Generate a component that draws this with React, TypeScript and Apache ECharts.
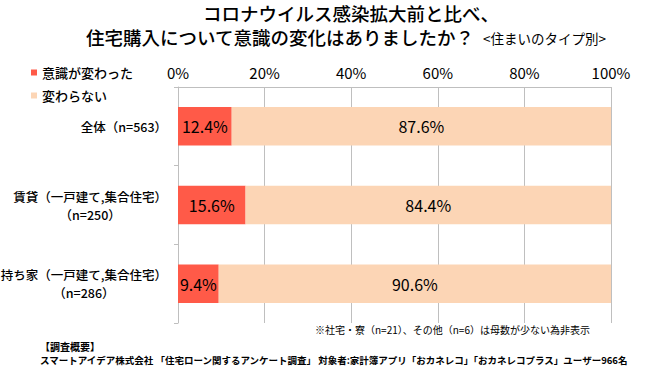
import React, { useEffect, useRef } from "react";
import * as echarts from "echarts";

const categories = ["全体（n=563）", "賃貸（一戸建て,集合住宅）\n（n=250）", "持ち家（一戸建て,集合住宅）\n（n=286）"];
const seriesNames = ["意識が変わった", "変わらない"];
const changed = [12.4, 15.6, 9.4];
const unchanged = [87.6, 84.4, 90.6];
const titleLine1 = "コロナウイルス感染拡大前と比べ、";
const titleLine2 = "住宅購入について意識の変化はありましたか？";
const subtitle = "<住まいのタイプ別>";
const footnote = "※社宅・寮（n=21）、その他（n=6）は母数が少ない為非表示";
const surveyHead = "【調査概要】";
const surveyBody = "スマートアイデア株式会社 「住宅ローン関するアンケート調査」 対象者:家計簿アプリ「おカネレコ」「おカネレコプラス」ユーザー966名";

const FONT = '"Noto Sans CJK JP", "Noto Sans", sans-serif';
const RED = "#FF5A48";
const PEACH = "#FCD5B5";
const GRID = "#BFBFBF";

export default function App() {
  const ref = useRef<HTMLDivElement>(null);
  useEffect(() => {
    document.body.style.margin = "0";
    const chart = echarts.init(ref.current!, null, { renderer: "svg" });
    chart.setOption({
      animation: false,
      textStyle: { fontFamily: FONT },
      grid: { left: 178, right: 39, top: 87, bottom: 45, containLabel: false, outerBoundsMode: "none" },
      legend: {
        orient: "vertical",
        left: 26,
        top: 61,
        itemWidth: 6,
        itemHeight: 6,
        itemGap: 10,
        icon: "rect",
        data: seriesNames,
        textStyle: { fontSize: 13, color: "#000", fontFamily: FONT, fontWeight: 500 },
      },
      xAxis: {
        type: "value",
        position: "top",
        min: 0,
        max: 100,
        interval: 20,
        axisLine: { show: true, lineStyle: { color: GRID, width: 1 } },
        axisTick: { show: false },
        splitLine: { show: true, lineStyle: { color: GRID, width: 1 } },
        axisLabel: { formatter: "{value}%", fontSize: 15, color: "#000", margin: 7, fontFamily: FONT },
      },
      yAxis: {
        type: "category",
        inverse: true,
        data: categories,
        axisLine: { show: true, lineStyle: { color: GRID, width: 1 } },
        axisTick: { show: true, length: 4, lineStyle: { color: GRID } },
        axisLabel: {
          margin: 11,
          color: "#000",
          formatter: (v: string) => v.split("\n").map((s) => `{c|${s}}`).join("\n"),
          rich: {
            c: { align: "center", fontSize: 12.5, lineHeight: 18, color: "#000", fontFamily: FONT, fontWeight: 500 },
          },
        },
      },
      series: [
        {
          name: seriesNames[0],
          type: "bar",
          stack: "total",
          barWidth: "49%",
          data: changed,
          itemStyle: { color: RED },
          label: {
            show: true,
            position: "inside",
            formatter: (p: any) => p.value.toFixed(1) + "%",
            fontSize: 16,
            color: "#000",
            fontFamily: FONT,
          },
        },
        {
          name: seriesNames[1],
          type: "bar",
          stack: "total",
          barWidth: "49%",
          data: unchanged,
          itemStyle: { color: PEACH },
          label: {
            show: true,
            position: "inside",
            formatter: (p: any) => p.value.toFixed(1) + "%",
            fontSize: 16,
            color: "#000",
            fontFamily: FONT,
          },
        },
      ],
      graphic: [
        {
          type: "text",
          left: 203,
          top: 3,
          style: { text: titleLine1, fontSize: 18.5, lineHeight: 20, fontWeight: 500, fill: "#000", fontFamily: FONT },
        },
        {
          type: "text",
          left: 86,
          top: 27,
          style: { text: titleLine2, fontSize: 18.5, lineHeight: 20, fontWeight: 500, fill: "#000", fontFamily: FONT },
        },
        {
          type: "text",
          left: 483,
          top: 31,
          style: { text: subtitle, fontSize: 13.5, fill: "#000", fontFamily: FONT },
        },
        {
          type: "text",
          left: 315,
          top: 324,
          style: { text: footnote, fontSize: 10, fill: "#000", fontFamily: FONT },
        },
        {
          type: "text",
          left: 40,
          top: 341,
          style: { text: surveyHead, fontSize: 10, fontWeight: "bold", fill: "#000", fontFamily: FONT },
        },
        {
          type: "text",
          left: 40,
          top: 355,
          style: { text: surveyBody, fontSize: 9.5, fontWeight: "bold", fill: "#000", fontFamily: FONT },
        },
      ],
    });
    return () => chart.dispose();
  }, []);
  return <div ref={ref} style={{ width: 650, height: 368 }} />;
}
